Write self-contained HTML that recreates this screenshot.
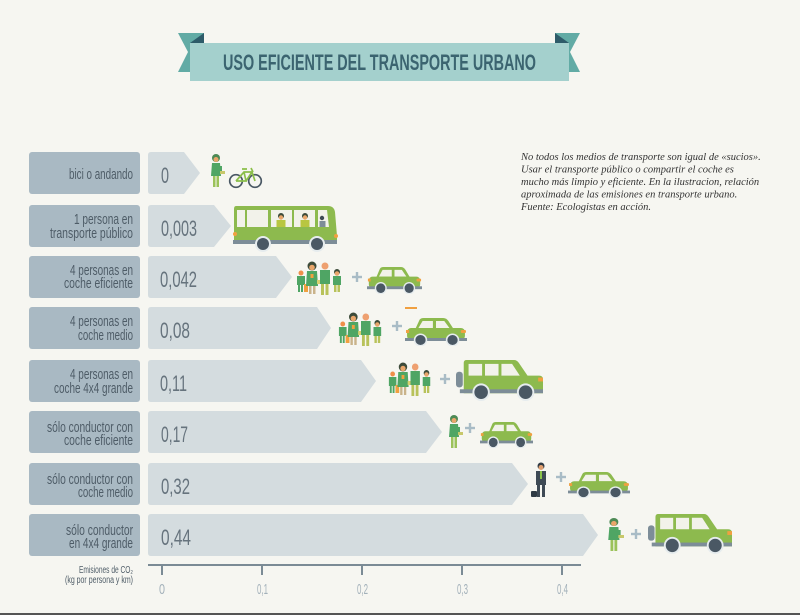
<!DOCTYPE html>
<html><head><meta charset="utf-8"><style>
html,body{margin:0;padding:0;background:#f6f6f1;}
svg{display:block;}
.lb{font-family:"Liberation Sans",sans-serif;font-size:15px;fill:#4e5c67;}
.nm{font-family:"Liberation Sans",sans-serif;font-size:22px;fill:#66737d;}
.tk{font-family:"Liberation Sans",sans-serif;font-size:15px;fill:#a3b1ba;}
.ds{font-family:"Liberation Serif",serif;font-style:italic;font-size:10.5px;fill:#333;}
.ax{font-family:"Liberation Sans",sans-serif;font-size:10px;fill:#4e5c67;}
</style></head><body>
<svg width="800" height="615" viewBox="0 0 800 615" xmlns="http://www.w3.org/2000/svg">
<defs>
<symbol id="sedan" viewBox="0 0 60 28" preserveAspectRatio="none">
 <path d="M14 2 Q15 0 18 0 H37 Q40 0 42 3 L47 11 H10 Z" fill="#8dba4e"/>
 <path d="M17 3 H27 V10 H13 Z" fill="#f2f2ea"/>
 <path d="M30 3 H38 L43 10 H30 Z" fill="#f2f2ea"/>
 <rect x="2" y="10" width="56" height="12" rx="4" fill="#8dba4e"/>
 <rect x="54" y="12" width="5" height="3" rx="1" fill="#f0a040"/>
 <rect x="1" y="12" width="3" height="3" fill="#f0a040"/>
 <rect x="0" y="20" width="60" height="3" fill="#7d8d98"/>
 <circle cx="15" cy="22" r="6.5" fill="#e6ecee"/>
 <circle cx="46" cy="22" r="6.5" fill="#e6ecee"/>
 <circle cx="15" cy="22" r="5" fill="#4a5864"/>
 <circle cx="46" cy="22" r="5" fill="#4a5864"/>
</symbol>
<symbol id="suv" viewBox="0 0 90 42" preserveAspectRatio="none">
 <path d="M11 0 H60 Q63 0 65 3 L74 16 H86 Q90 16 90 20 V34 H8 V3 Q8 0 11 0 Z" fill="#8dba4e"/>
 <rect x="13" y="4" width="14" height="12" fill="#f2f2ea"/>
 <rect x="30" y="4" width="14" height="12" fill="#f2f2ea"/>
 <path d="M47 4 H58 L66 16 H47 Z" fill="#f2f2ea"/>
 <rect x="0" y="12" width="7" height="16" rx="3" fill="#7d8d98"/>
 <rect x="85" y="18" width="5" height="4" fill="#f0a040"/>
 <rect x="4" y="30" width="86" height="4" fill="#7d8d98"/>
 <circle cx="26" cy="33" r="9" fill="#e6ecee"/>
 <circle cx="72" cy="33" r="9" fill="#e6ecee"/>
 <circle cx="26" cy="33" r="7" fill="#4a5864"/>
 <circle cx="72" cy="33" r="7" fill="#4a5864"/>
</symbol>
<symbol id="woman" viewBox="0 0 16 34" preserveAspectRatio="none">
 <circle cx="7" cy="4" r="4" fill="#4d8a55"/>
 <circle cx="7" cy="5.5" r="2.5" fill="#e9a66b"/>
 <path d="M3 9 H11 L12 22 H2 Z" fill="#4fa564"/>
 <rect x="10" y="12" width="3" height="6" fill="#4fa564"/>
 <rect x="11" y="17" width="5" height="3" fill="#c8c86a"/>
 <rect x="4" y="22" width="2.5" height="11" fill="#9bc25a"/>
 <rect x="7.5" y="22" width="2.5" height="11" fill="#9bc25a"/>
</symbol>
<symbol id="family" viewBox="0 0 50 34" preserveAspectRatio="none">
 <circle cx="6" cy="12" r="2.5" fill="#ef8f4a"/>
 <rect x="2" y="15" width="8" height="9" fill="#4fa564"/>
 <rect x="3" y="24" width="2" height="7" fill="#4fa564"/>
 <rect x="6" y="24" width="2" height="7" fill="#4fa564"/>
 <rect x="9" y="23" width="4" height="8" fill="#f0a040"/>
 <circle cx="17" cy="5" r="4.5" fill="#3d4b3a"/>
 <circle cx="17" cy="6.5" r="2.8" fill="#e9a66b"/>
 <path d="M12 10 H22 L23 25 H11 Z" fill="#4fa564"/>
 <rect x="15.5" y="13" width="3" height="4" fill="#f0a040"/>
 <rect x="22" y="19" width="5" height="4" fill="#d8d070"/>
 <rect x="14" y="25" width="2.5" height="8" fill="#c9b38a"/>
 <rect x="18" y="25" width="2.5" height="8" fill="#c9b38a"/>
 <circle cx="30" cy="5" r="3.5" fill="#eea070"/>
 <rect x="25" y="9" width="10" height="14" fill="#4fa564"/>
 <rect x="26" y="23" width="3" height="11" fill="#b8c25a"/>
 <rect x="30.5" y="23" width="3" height="11" fill="#b8c25a"/>
 <circle cx="42" cy="11" r="3" fill="#3d4b3a"/>
 <circle cx="42" cy="12.5" r="2.3" fill="#e9a66b"/>
 <rect x="38" y="15" width="8" height="9" fill="#4fa564"/>
 <rect x="39" y="24" width="2.5" height="7" fill="#b8c25a"/>
 <rect x="42.5" y="24" width="2.5" height="7" fill="#b8c25a"/>
</symbol>
<symbol id="biz" viewBox="0 0 18 36" preserveAspectRatio="none">
 <circle cx="10" cy="4" r="3.5" fill="#2f3a44"/>
 <circle cx="10" cy="5.5" r="2.5" fill="#e0a070"/>
 <rect x="5" y="9" width="10" height="14" fill="#3e4a55"/>
 <rect x="9" y="9" width="2" height="8" fill="#8bc34a"/>
 <rect x="6" y="23" width="3" height="12" fill="#3e4a55"/>
 <rect x="11" y="23" width="3" height="12" fill="#3e4a55"/>
 <rect x="0" y="29" width="6" height="6" rx="1" fill="#2f3a44"/>
</symbol>
<symbol id="plus" viewBox="0 0 10 10">
 <rect x="0" y="3.8" width="10" height="2.4" fill="#a9bcc6"/>
 <rect x="3.8" y="0" width="2.4" height="10" fill="#a9bcc6"/>
</symbol>
</defs>

<rect width="800" height="615" fill="#f6f6f1"/>

<!-- Title banner -->
<polygon points="178,33 204,33 204,72 178,72 188,52" fill="#62aba5"/>
<polygon points="555,33 580,33 570,52 580,72 555,72" fill="#62aba5"/>
<polygon points="190,43 204,33 204,43" fill="#2e5b69"/>
<polygon points="555,33 569,43 555,43" fill="#2e5b69"/>
<rect x="190" y="43" width="379" height="38" fill="#a4d0cd"/>
<text x="223" y="70" font-family="Liberation Sans, sans-serif" font-weight="bold" font-size="22" fill="#3b6470" textLength="313" lengthAdjust="spacingAndGlyphs">USO EFICIENTE DEL TRANSPORTE URBANO</text>

<!-- Description -->
<text class="ds" x="521" y="160">No todos los medios de transporte son igual de «sucios».</text>
<text class="ds" x="521" y="172.5">Usar el transporte público o compartir el coche es</text>
<text class="ds" x="521" y="185">mucho más limpio y eficiente. En la ilustracion, relación</text>
<text class="ds" x="521" y="197.5">aproximada de las emisiones en transporte urbano.</text>
<text class="ds" x="521" y="210">Fuente: Ecologistas en acción.</text>

<!-- Label boxes -->
<g fill="#a9b9c3">
<rect x="29" y="152" width="111" height="42" rx="3"/>
<rect x="29" y="205" width="111" height="42" rx="3"/>
<rect x="29" y="256" width="111" height="42" rx="3"/>
<rect x="29" y="307" width="111" height="42" rx="3"/>
<rect x="29" y="360" width="111" height="42" rx="3"/>
<rect x="29" y="411" width="111" height="42" rx="3"/>
<rect x="29" y="463" width="111" height="42" rx="3"/>
<rect x="29" y="514" width="111" height="42" rx="3"/>
</g>

<!-- Bars -->
<g fill="#d4dcdf">
<path d="M151 152 H184 L200 173 L184 194 H151 Q148 194 148 191 V155 Q148 152 151 152 Z"/>
<path d="M151 205 H214 L231 226 L214 247 H151 Q148 247 148 244 V208 Q148 205 151 205 Z"/>
<path d="M151 256 H276 L292 277 L276 298 H151 Q148 298 148 295 V259 Q148 256 151 256 Z"/>
<path d="M151 307 H317 L331 328 L317 349 H151 Q148 349 148 346 V310 Q148 307 151 307 Z"/>
<path d="M151 360 H361 L376 381 L361 402 H151 Q148 402 148 399 V363 Q148 360 151 360 Z"/>
<path d="M151 411 H426 L442 432 L426 453 H151 Q148 453 148 450 V414 Q148 411 151 411 Z"/>
<path d="M151 463 H512 L528 484 L512 505 H151 Q148 505 148 502 V466 Q148 463 151 463 Z"/>
<path d="M151 514 H583 L598 535 L583 556 H151 Q148 556 148 553 V517 Q148 514 151 514 Z"/>
</g>

<!-- Label text -->
<text class="lb" x="69" y="179" textLength="64" lengthAdjust="spacingAndGlyphs">bici o andando</text>
<text class="lb" x="74" y="224" textLength="59" lengthAdjust="spacingAndGlyphs">1 persona en</text>
<text class="lb" x="50" y="238" textLength="83" lengthAdjust="spacingAndGlyphs">transporte público</text>
<text class="lb" x="70" y="275" textLength="63" lengthAdjust="spacingAndGlyphs">4 personas en</text>
<text class="lb" x="64" y="288" textLength="69" lengthAdjust="spacingAndGlyphs">coche eficiente</text>
<text class="lb" x="70" y="326" textLength="63" lengthAdjust="spacingAndGlyphs">4 personas en</text>
<text class="lb" x="78" y="340" textLength="55" lengthAdjust="spacingAndGlyphs">coche medio</text>
<text class="lb" x="70" y="379" textLength="63" lengthAdjust="spacingAndGlyphs">4 personas en</text>
<text class="lb" x="54" y="393" textLength="79" lengthAdjust="spacingAndGlyphs">coche 4x4 grande</text>
<text class="lb" x="47" y="432" textLength="86" lengthAdjust="spacingAndGlyphs">sólo conductor con</text>
<text class="lb" x="64" y="445" textLength="69" lengthAdjust="spacingAndGlyphs">coche eficiente</text>
<text class="lb" x="47" y="484" textLength="86" lengthAdjust="spacingAndGlyphs">sólo conductor con</text>
<text class="lb" x="78" y="497" textLength="55" lengthAdjust="spacingAndGlyphs">coche medio</text>
<text class="lb" x="66" y="535" textLength="67" lengthAdjust="spacingAndGlyphs">sólo conductor</text>
<text class="lb" x="69" y="548" textLength="64" lengthAdjust="spacingAndGlyphs">en 4x4 grande</text>

<!-- Values -->
<text class="nm" x="161" y="183" textLength="8" lengthAdjust="spacingAndGlyphs">0</text>
<text class="nm" x="161" y="236" textLength="36" lengthAdjust="spacingAndGlyphs">0,003</text>
<text class="nm" x="160" y="287" textLength="37" lengthAdjust="spacingAndGlyphs">0,042</text>
<text class="nm" x="160" y="338" textLength="30" lengthAdjust="spacingAndGlyphs">0,08</text>
<text class="nm" x="160" y="391" textLength="27" lengthAdjust="spacingAndGlyphs">0,11</text>
<text class="nm" x="161" y="442" textLength="27" lengthAdjust="spacingAndGlyphs">0,17</text>
<text class="nm" x="161" y="494" textLength="29" lengthAdjust="spacingAndGlyphs">0,32</text>
<text class="nm" x="161" y="545" textLength="30" lengthAdjust="spacingAndGlyphs">0,44</text>

<!-- Row 1: woman + bike -->
<use href="#woman" x="209" y="154" width="16" height="34"/>
<g fill="none">
 <circle cx="236" cy="181" r="6.3" stroke="#4a5864" stroke-width="1.7"/>
 <circle cx="255" cy="181" r="6.3" stroke="#4a5864" stroke-width="1.7"/>
 <path d="M236 181 L244 172 L252 172 L255 181 M244 172 L246 181 L236 181 M246 181 L252 172 M242 169 H247 M251 168 L253 172" stroke="#8bbf4a" stroke-width="1.7"/>
</g>

<!-- Row 2: bus -->
<path d="M236 206 H328 Q334 206 335 212 L337 236 V241 H234 V209 Q234 206 236 206 Z" fill="#8dba4e"/>
<g fill="#f2f2ea">
<rect x="237" y="210" width="8" height="17"/>
<rect x="247" y="210" width="21" height="17"/>
<rect x="271" y="210" width="21" height="17"/>
<rect x="294" y="210" width="21" height="17"/>
<path d="M318 210 H327 L329 227 H318 Z"/>
</g>
<circle cx="281" cy="216" r="3" fill="#3d4b3a"/>
<circle cx="281" cy="217.5" r="2.2" fill="#e9a66b"/>
<rect x="276.5" y="220" width="9" height="7" fill="#b8c640"/>
<circle cx="305" cy="216" r="3" fill="#3d4b3a"/>
<circle cx="305" cy="217.5" r="2.2" fill="#e9a66b"/>
<rect x="300.5" y="220" width="9" height="7" fill="#b8c640"/>
<circle cx="322" cy="218" r="2.2" fill="#3e4a55"/>
<rect x="319.5" y="221" width="6" height="6" fill="#7d8d98"/>
<circle cx="336" cy="236" r="2" fill="#f0a040"/>
<circle cx="235" cy="234" r="2" fill="#f0a040"/>
<rect x="233" y="240" width="104" height="4" fill="#7d8d98"/>
<circle cx="263" cy="244" r="8" fill="#e6ecee"/>
<circle cx="317" cy="244" r="8" fill="#e6ecee"/>
<circle cx="263" cy="244" r="6" fill="#4a5864"/>
<circle cx="317" cy="244" r="6" fill="#4a5864"/>

<!-- Row 3 -->
<use href="#family" x="295" y="261" width="50" height="34"/>
<use href="#plus" x="352" y="272" width="10" height="10"/>
<use href="#sedan" x="367" y="267" width="55" height="27"/>

<!-- Row 4 -->
<use href="#family" x="337" y="312" width="48" height="34"/>
<use href="#plus" x="392" y="321" width="10" height="10"/>
<rect x="405" y="307" width="12" height="2" fill="#f0a040"/>
<use href="#sedan" x="405" y="318" width="62" height="28"/>

<!-- Row 5 -->
<use href="#family" x="387" y="362" width="47" height="34"/>
<use href="#plus" x="440" y="374" width="10" height="10"/>
<use href="#suv" x="456" y="360" width="87" height="41"/>

<!-- Row 6 -->
<use href="#woman" x="447" y="415" width="16" height="34"/>
<use href="#plus" x="465" y="423" width="10" height="10"/>
<use href="#sedan" x="480" y="422" width="53" height="26"/>

<!-- Row 7 -->
<use href="#biz" x="531" y="462" width="18" height="36"/>
<use href="#plus" x="556" y="472" width="10" height="10"/>
<use href="#sedan" x="568" y="472" width="62" height="26"/>

<!-- Row 8 -->
<use href="#woman" x="606" y="518" width="18" height="34"/>
<use href="#plus" x="631" y="529" width="10" height="10"/>
<use href="#suv" x="648" y="514" width="84" height="40"/>

<!-- Axis -->
<line x1="148" y1="565" x2="581" y2="565" stroke="#7b8b95" stroke-width="2"/>
<g stroke="#7b8b95" stroke-width="2">
<line x1="162" y1="565" x2="162" y2="575"/>
<line x1="262" y1="565" x2="262" y2="575"/>
<line x1="362" y1="565" x2="362" y2="575"/>
<line x1="462" y1="565" x2="462" y2="575"/>
<line x1="562" y1="565" x2="562" y2="575"/>
</g>
<text class="tk" x="159" y="594" textLength="6" lengthAdjust="spacingAndGlyphs">0</text>
<text class="tk" x="257" y="594" textLength="11" lengthAdjust="spacingAndGlyphs">0,1</text>
<text class="tk" x="357" y="594" textLength="11" lengthAdjust="spacingAndGlyphs">0,2</text>
<text class="tk" x="457" y="594" textLength="11" lengthAdjust="spacingAndGlyphs">0,3</text>
<text class="tk" x="557" y="594" textLength="11" lengthAdjust="spacingAndGlyphs">0,4</text>
<text class="ax" x="79" y="573" textLength="54" lengthAdjust="spacingAndGlyphs">Emisiones de CO₂</text>
<text class="ax" x="65" y="583" textLength="68" lengthAdjust="spacingAndGlyphs">(kg por persona y km)</text>

<rect x="0" y="613" width="800" height="2" fill="#555"/>
</svg>
</body></html>
